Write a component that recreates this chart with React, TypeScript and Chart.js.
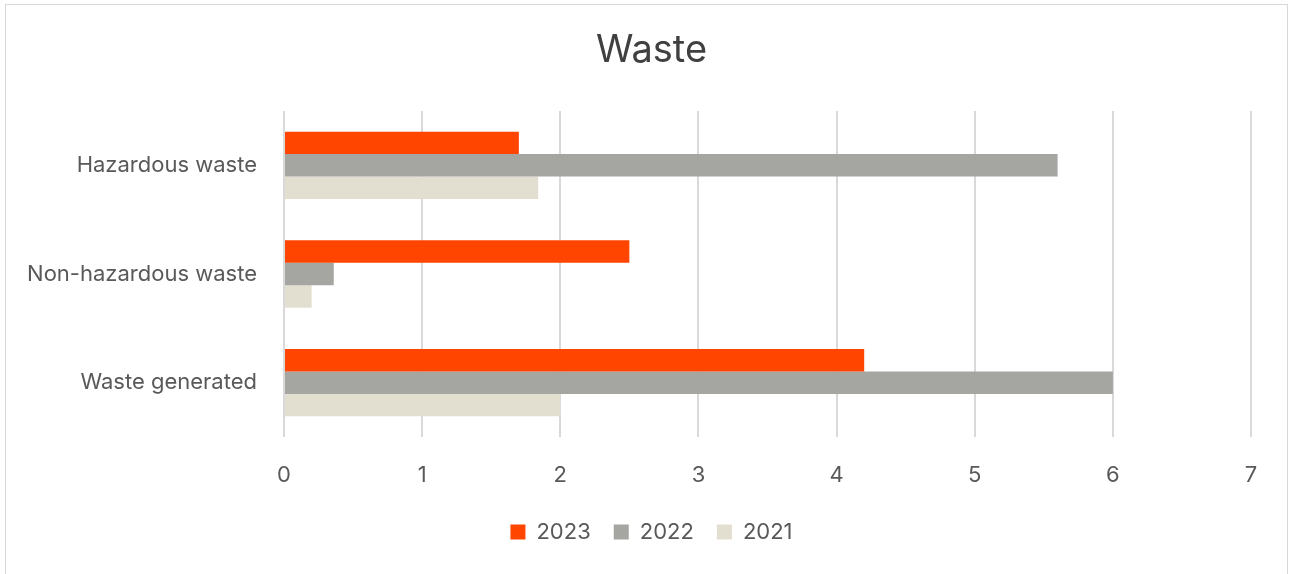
import React, { useEffect, useRef } from "react";
import { Chart, registerables } from "chart.js";

Chart.register(...registerables);

const categories = ["Hazardous waste", "Non-hazardous waste", "Waste generated"];
const seriesLabels = ["2023", "2022", "2021"];
const values2023 = [1.7, 2.5, 4.2];
const values2022 = [5.6, 0.36, 6.0];
const values2021 = [1.84, 0.2, 2.0];
const seriesColors = ["#FF4500", "#A5A6A1", "#E2DED0"];
const xTicks = [0, 1, 2, 3, 4, 5, 6, 7];
const titleText = "Waste";

const FONT = "Inter, 'Open Sans', sans-serif";

// shifts the title and legend blocks so they are centred on the whole frame
const shiftBlocks = {
  id: "shiftBlocks",
  afterLayout(chart: any) {
    const dx = 26;
    [chart.titleBlock, chart.legend].forEach((b: any) => {
      if (b) {
        b.left += dx;
        b.right += dx;
      }
    });
  },
};

export default function App() {
  const canvasRef = useRef<HTMLCanvasElement | null>(null);

  useEffect(() => {
    const canvas = canvasRef.current;
    if (!canvas) return;
    const seriesValues = [values2023, values2022, values2021];
    const chart = new Chart(canvas, {
      type: "bar",
      data: {
        labels: categories,
        datasets: seriesLabels.map((label, i) => ({
          label,
          data: seriesValues[i],
          backgroundColor: seriesColors[i],
          borderWidth: 0,
          barPercentage: 1,
          categoryPercentage: 0.62,
        })),
      },
      plugins: [shiftBlocks],
      options: {
        indexAxis: "y",
        responsive: false,
        animation: false,
        devicePixelRatio: 1,
        layout: { padding: { left: 0, right: 39, top: 0, bottom: 21 } },
        plugins: {
          title: {
            display: true,
            text: titleText,
            color: "#404040",
            font: { family: FONT, size: 38, weight: "normal" },
            padding: { top: 28.2, bottom: 37.2 },
          },
          legend: {
            display: true,
            position: "bottom",
            labels: {
              color: "#595959",
              font: { family: FONT, size: 22 },
              boxWidth: 15,
              boxHeight: 15,
              padding: 23,
            },
          },
          tooltip: { enabled: false },
        },
        scales: {
          x: {
            min: 0,
            max: 7,
            afterBuildTicks: (scale: any) => {
              scale.ticks = xTicks.map((v) => ({ value: v }));
            },
            afterFit: (scale: any) => {
              scale.height = 61;
            },
            grid: {
              color: "#D9D9D9",
              lineWidth: 2,
              drawTicks: false,
            },
            border: { display: false },
            ticks: {
              color: "#595959",
              font: { family: FONT, size: 22 },
              padding: 25,
            },
          },
          y: {
            afterFit: (scale: any) => {
              scale.width = 284;
            },
            grid: { display: false, drawTicks: false },
            border: { display: false },
            ticks: {
              color: "#595959",
              font: { family: FONT, size: 22 },
              padding: 27,
            },
          },
        },
      },
    });
    return () => chart.destroy();
  }, []);

  return (
    <div
      style={{
        position: "fixed",
        left: 0,
        top: 0,
        width: 1290,
        height: 574,
        overflow: "hidden",
        background: "#ffffff",
      }}
    >
      <div
        style={{
          position: "absolute",
          left: 5,
          top: 4,
          width: 1283,
          height: 620,
          border: "1px solid #D9D9D9",
          boxSizing: "border-box",
        }}
      />
      <canvas
        ref={canvasRef}
        width={1290}
        height={574}
        style={{ position: "absolute", left: 0, top: 0, width: 1290, height: 574 }}
      />
    </div>
  );
}
